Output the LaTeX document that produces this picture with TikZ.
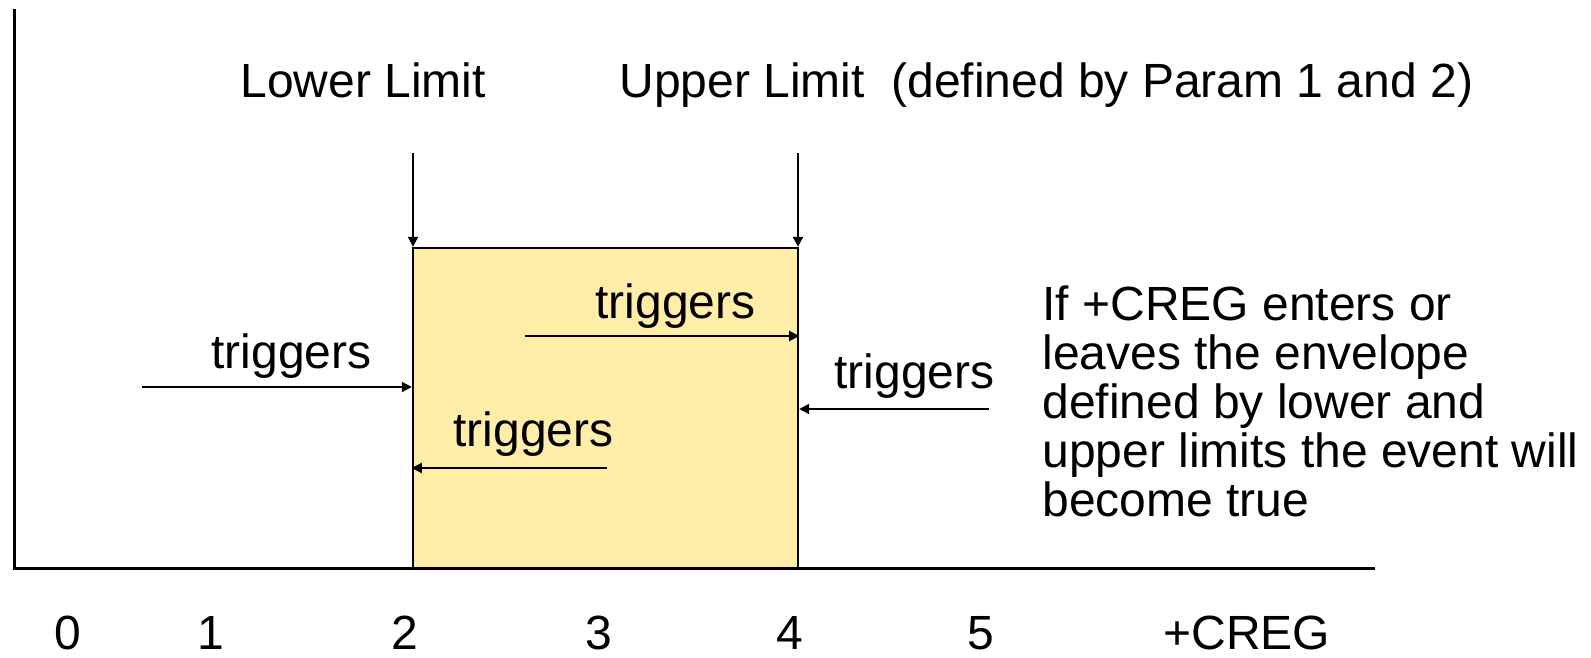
\documentclass[tikz,border=0pt]{standalone}
\usepackage{fontspec}
\setmainfont{Liberation Sans}
\usetikzlibrary{arrows.meta}
\definecolor{envfill}{RGB}{255,237,168}
\tikzset{
  lbl/.style={inner sep=0pt, anchor=base west, font=\fontsize{24}{24}\selectfont},
  num/.style={inner sep=0pt, anchor=base, font=\fontsize{24}{24}\selectfont},
  axisline/.style={line width=1.5pt},
  arr/.style={line width=1pt, -{Triangle[length=5pt,width=5pt]}},
}
\begin{document}
\begin{tikzpicture}[x=0.5pt,y=-0.5pt]
\useasboundingbox (0,0) rectangle (1591,658);
% axes
\coordinate (origin) at (14,568);
\coordinate (ytop) at (14,9);
\coordinate (xend) at (1375,568);
\draw[axisline] (ytop) -- (origin) -- (xend);
% envelope between the limits
\node (box) [draw, line width=1.2pt, fill=envfill, minimum width=192.5pt, minimum height=160pt, inner sep=0pt] at (605.5,408) {};
\draw[axisline] (origin) -- (xend);
% limit labels and markers
\node[lbl] (lower) at (240,98) {Lower Limit};
\node[lbl] (upper) at (619,98) {Upper Limit\ \ (defined by Param 1 and 2)};
\coordinate (lowtop) at (413,153);
\coordinate (uptop) at (798,153);
\draw[arr] (lowtop) -- (lowtop |- box.north);
\draw[arr] (uptop) -- (uptop |- box.north);
% transitions that trigger the event
\node[lbl] (t1) at (211,368) {triggers};
\coordinate (s1) at (142,387);
\draw[arr] (s1) -- (s1 -| box.west);
\node[lbl] (t2) at (595,318) {triggers};
\coordinate (s2) at (525,336);
\draw[arr] (s2) -- (s2 -| box.east);
\node[lbl] (t3) at (834,388) {triggers};
\coordinate (s3) at (989,409);
\draw[arr] (s3) -- (s3 -| box.east);
\node[lbl] (t4) at (453,446) {triggers};
\coordinate (s4) at (607,468);
\draw[arr] (s4) -- (s4 -| box.west);
% explanation
\node[lbl] (e1) at (1042,320) {If +CREG enters or};
\node[lbl] (e2) at (1042,369) {leaves the envelope};
\node[lbl] (e3) at (1042,418) {defined by lower and};
\node[lbl] (e4) at (1042,467) {upper limits the event will};
\node[lbl] (e5) at (1042,516) {become true};
% axis scale
\node[num] (n0) at (68,649) {0};
\node[num] (n1) at (211,649) {1};
\node[num] (n2) at (405,649) {2};
\node[num] (n3) at (599,649) {3};
\node[num] (n4) at (790,649) {4};
\node[num] (n5) at (981,649) {5};
\node[lbl] (creg) at (1163,649) {+CREG};
\end{tikzpicture}
\end{document}
